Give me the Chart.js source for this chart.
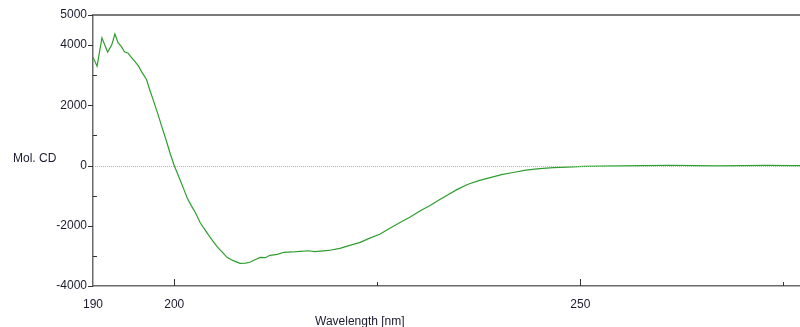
<!DOCTYPE html>
<html>
<head>
<meta charset="utf-8">
<script src="https://cdn.jsdelivr.net/npm/chart.js@4/dist/chart.umd.min.js"></script>
<style>
  html, body { margin: 0; padding: 0; background: #fff; overflow: hidden; }
  #wrap { position: relative; width: 830px; height: 327px; }
  .axis-title { position: absolute; font: 12px "Liberation Sans", Arial, sans-serif; color: #1b1b2f; white-space: nowrap; }
</style>
</head>
<body>
<div id="wrap">
  <canvas id="cd"></canvas>
  <div class="axis-title" style="left:13px; top:151px;">Mol. CD</div>
  <div class="axis-title" style="left:315px; top:314px;">Wavelength [nm]</div>
</div>
<script>
/* ── data ── */
const wavelengths = [
  190, 190.5, 191.1, 191.8, 192.3, 192.7, 193.1, 193.5, 193.9, 194.3, 194.7, 195.2, 195.6, 196.0,
  196.6, 197.0, 197.4, 198.0, 198.5, 199.0, 199.5, 200, 200.7, 201.2, 201.6, 202.1, 202.6, 203.2,
  204.0, 204.6, 205.3, 206.0, 206.5, 207.2, 208.1, 208.8, 209.3, 210.0, 210.6, 211.2, 211.8, 212.7,
  213.5, 214.5, 215.5, 216.5, 217.3, 218.0, 219.0, 220.4, 221.5, 222.9, 224.0, 225.3, 226.5, 227.8,
  229.0, 230.3, 231.5, 232.7, 233.5, 234.8, 236.1, 237.5, 238.9, 240.3, 241.7, 243.3, 245.0, 246.7,
  248.4, 250.4, 252.4, 255, 258, 261, 264, 267, 270, 273, 276, 277.5
];
const molCD = [
  3600, 3300, 4240, 3770, 4000, 4370, 4070, 3950, 3770, 3740, 3600, 3440, 3300, 3110,
  2850, 2500, 2190, 1700, 1270, 850, 400, 0, -460, -800, -1080, -1330, -1560, -1900,
  -2220, -2450, -2700, -2900, -3050, -3150, -3250, -3240, -3210, -3120, -3050, -3060, -2980, -2950,
  -2880, -2870, -2850, -2830, -2860, -2840, -2820, -2750, -2660, -2550, -2420, -2280, -2090, -1890,
  -1720, -1500, -1330, -1130, -1000, -800, -630, -500, -400, -300, -230, -150, -100, -70,
  -50, -30, -20, -10, 0, 10, 0, -10, 0, 5, -5, 0
];
const xTicks = [190, 200, 225, 250, 275];
const xLabels = [190, 200, 250];
const yTicks = [-4000, -3000, -2000, -1000, 0, 1000, 2000, 3000, 4000, 5000];
const yLabels = [-4000, -2000, 0, 2000, 4000, 5000];

const axisColor = '#6a6a6a';
const textColor = '#1b1b2f';

/* ── frame, zero line and tick marks ── */
const framePlugin = {
  id: 'frame',
  afterDraw(chart) {
    const { ctx, chartArea: a, scales: { x, y } } = chart;
    ctx.save();
    // zero line
    const y0 = Math.round(y.getPixelForValue(0)) + 0.5;
    ctx.strokeStyle = '#b4b4b4';
    ctx.lineWidth = 1;
    ctx.setLineDash([1, 1]);
    ctx.beginPath(); ctx.moveTo(a.left, y0); ctx.lineTo(a.right, y0); ctx.stroke();
    ctx.setLineDash([]);
    // top border
    ctx.strokeStyle = '#7a7a7a';
    ctx.lineWidth = 2;
    ctx.beginPath(); ctx.moveTo(a.left, a.top); ctx.lineTo(a.right, a.top); ctx.stroke();
    // ticks
    ctx.strokeStyle = '#333';
    ctx.lineWidth = 1;
    ctx.beginPath();
    yTicks.forEach(v => {
      const py = Math.round(y.getPixelForValue(v)) + 0.5;
      if (yLabels.includes(v)) { ctx.moveTo(a.left - 5, py); ctx.lineTo(a.left, py); }
      else { ctx.moveTo(a.left, py); ctx.lineTo(a.left + 4, py); }
    });
    xTicks.forEach(v => {
      if (v === 190) return;
      const px = Math.round(x.getPixelForValue(v)) + 0.5;
      ctx.moveTo(px, a.bottom); ctx.lineTo(px, a.bottom - (xLabels.includes(v) ? 7 : 4));
    });
    ctx.stroke();
    ctx.restore();
  }
};

function init() {
  const ctx = document.getElementById('cd').getContext('2d');
  new Chart(ctx, {
    type: 'line',
    data: {
      datasets: [{
        data: wavelengths.map((w, i) => ({ x: w, y: molCD[i] })),
        borderColor: '#2e9e2e',
        borderWidth: 1.2,
        pointRadius: 0,
        tension: 0,
        fill: false
      }]
    },
    options: {
      responsive: false,
      animation: false,
      layout: { padding: { top: 15, right: 6, left: 0, bottom: 0 } },
      plugins: { legend: { display: false }, tooltip: { enabled: false } },
      scales: {
        x: {
          type: 'linear',
          min: 190, max: 280,
          afterBuildTicks: s => { s.ticks = xTicks.map(v => ({ value: v })); },
          afterFit: s => { s.height = 41; },
          grid: { display: false, drawTicks: false },
          border: { display: true, color: axisColor, width: 1.5 },
          ticks: {
            autoSkip: false, maxRotation: 0, padding: 11,
            color: textColor,
            font: { family: "'Liberation Sans', Arial, sans-serif", size: 12 },
            callback: v => xLabels.includes(v) ? String(v) : ''
          }
        },
        y: {
          min: -4000, max: 5000,
          afterBuildTicks: s => { s.ticks = yTicks.map(v => ({ value: v })); },
          afterFit: s => { s.width = 93; },
          grid: { display: false, drawTicks: false },
          border: { display: true, color: axisColor, width: 1.5 },
          ticks: {
            autoSkip: false, padding: 6,
            color: textColor,
            font: { family: "'Liberation Sans', Arial, sans-serif", size: 12 },
            callback: v => yLabels.includes(v) ? String(v) : ''
          }
        }
      }
    },
    plugins: [framePlugin]
  });
}

document.getElementById('cd').width = 830;
document.getElementById('cd').height = 327;
init();
</script>
</body>
</html>
